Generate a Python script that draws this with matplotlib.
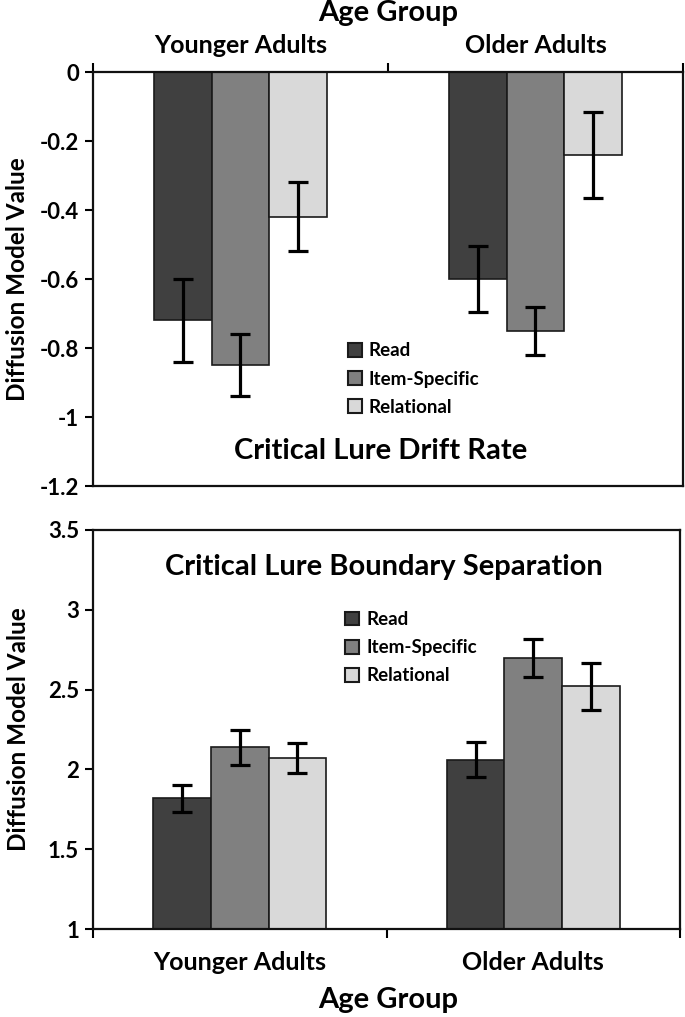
import matplotlib
matplotlib.use("Agg")
import matplotlib.pyplot as plt
import numpy as np
from matplotlib.patches import Patch

plt.rcParams['font.family'] = ['Lato', 'DejaVu Sans']
plt.rcParams['font.weight'] = 'bold'
plt.rcParams['axes.labelweight'] = 'bold'

groups = ["Younger Adults", "Older Adults"]
conditions = ["Read", "Item-Specific", "Relational"]
colors = ["#404040", "#808080", "#d9d9d9"]

# Critical lure drift rate (top panel)
drift_read = [-0.72, -0.60]
drift_item = [-0.85, -0.75]
drift_rel = [-0.42, -0.24]
drift_read_err = [0.12, 0.095]
drift_item_err = [0.09, 0.07]
drift_rel_err = [0.10, 0.125]

# Critical lure boundary separation (bottom panel)
bound_read = [1.82, 2.06]
bound_item = [2.14, 2.70]
bound_rel = [2.07, 2.52]
bound_read_err = [0.085, 0.11]
bound_item_err = [0.11, 0.12]
bound_rel_err = [0.095, 0.145]

top_yticks = [0, -0.2, -0.4, -0.6, -0.8, -1, -1.2]
bot_yticks = [1, 1.5, 2, 2.5, 3, 3.5]

W, H = 685, 1017
fig = plt.figure(figsize=(W / 100, H / 100), dpi=100)

ax1 = fig.add_axes([93 / W, 1 - 486 / H, 590 / W, (486 - 72) / H])
ax2 = fig.add_axes([93 / W, 1 - 929 / H, 587 / W, (929 - 530) / H])

bw = 0.196
x = np.arange(len(groups))


def draw(ax, vals, errs, ylim, yticks, ytlabels):
    for i, (v, e, c) in enumerate(zip(vals, errs, colors)):
        xs = x + (i - 1) * bw
        ax.bar(xs, v, width=bw, color=c, edgecolor="#1a1a1a", linewidth=1.2, zorder=2)
        ax.errorbar(xs, v, yerr=e, fmt="none", ecolor="black", elinewidth=2.3,
                    capsize=7, capthick=2.3, zorder=3)
    ax.set_xlim(-0.5, 1.5)
    ax.set_ylim(*ylim)
    ax.set_yticks(yticks)
    ax.set_yticklabels(ytlabels, fontsize=16, fontweight="bold")
    ax.set_xticks([-0.5, 0.5, 1.5])
    ax.set_xticklabels([])
    ax.set_xticks(x, minor=True)
    for s in ax.spines.values():
        s.set_linewidth(1.6)
        s.set_color("#111111")
    ax.tick_params(axis="y", length=6, width=1.5, pad=4, direction="out")
    ax.tick_params(axis="x", which="major", length=6.5, width=1.5, direction="out")
    ax.set_ylabel("Diffusion Model Value", fontsize=17.5, fontweight="bold")
    ax.yaxis.set_label_coords(-0.108, 0.5)


draw(ax1, [drift_read, drift_item, drift_rel],
     [drift_read_err, drift_item_err, drift_rel_err],
     (-1.2, 0), top_yticks, ["0", "-0.2", "-0.4", "-0.6", "-0.8", "-1", "-1.2"])
draw(ax2, [bound_read, bound_item, bound_rel],
     [bound_read_err, bound_item_err, bound_rel_err],
     (1, 3.5), bot_yticks, ["1", "1.5", "2", "2.5", "3", "3.5"])

# top panel: category axis on top
ax1.xaxis.tick_top()
ax1.tick_params(axis="x", which="major", top=True, bottom=False)
ax1.tick_params(axis="x", which="minor", top=True, bottom=False, labeltop=True,
                labelbottom=False, length=0, pad=11)
ax1.set_xticklabels(groups, minor=True, fontsize=18, fontweight="bold")

ax2.tick_params(axis="x", which="minor", length=0, pad=16)
ax2.set_xticklabels(groups, minor=True, fontsize=18, fontweight="bold")

fig.text(388 / W, 1 - 13 / H, "Age Group", ha="center", va="center", fontsize=21,
         fontweight="bold")
fig.text(388 / W, 1 - 1000 / H, "Age Group", ha="center", va="center", fontsize=21,
         fontweight="bold")

ax1.text(0.488, 0.0845, "Critical Lure Drift Rate", transform=ax1.transAxes,
         ha="center", va="center", fontsize=21, fontweight="bold")
ax2.text(0.496, 0.907, "Critical Lure Boundary Separation", transform=ax2.transAxes,
         ha="center", va="center", fontsize=21, fontweight="bold")

handles = [Patch(facecolor=c, edgecolor="#1a1a1a", linewidth=1.5) for c in colors]
for ax, anchor in [(ax1, (0.432, 0.347)), (ax2, (0.43, 0.797))]:
    ax.legend(handles, conditions, loc="upper left", bbox_to_anchor=anchor,
              frameon=False, prop={"size": 13.5, "weight": "bold"}, borderpad=0,
              borderaxespad=0, handlelength=0.75, handleheight=0.75,
              handletextpad=0.35, labelspacing=0.6)

fig.savefig("out.png", dpi=100)
